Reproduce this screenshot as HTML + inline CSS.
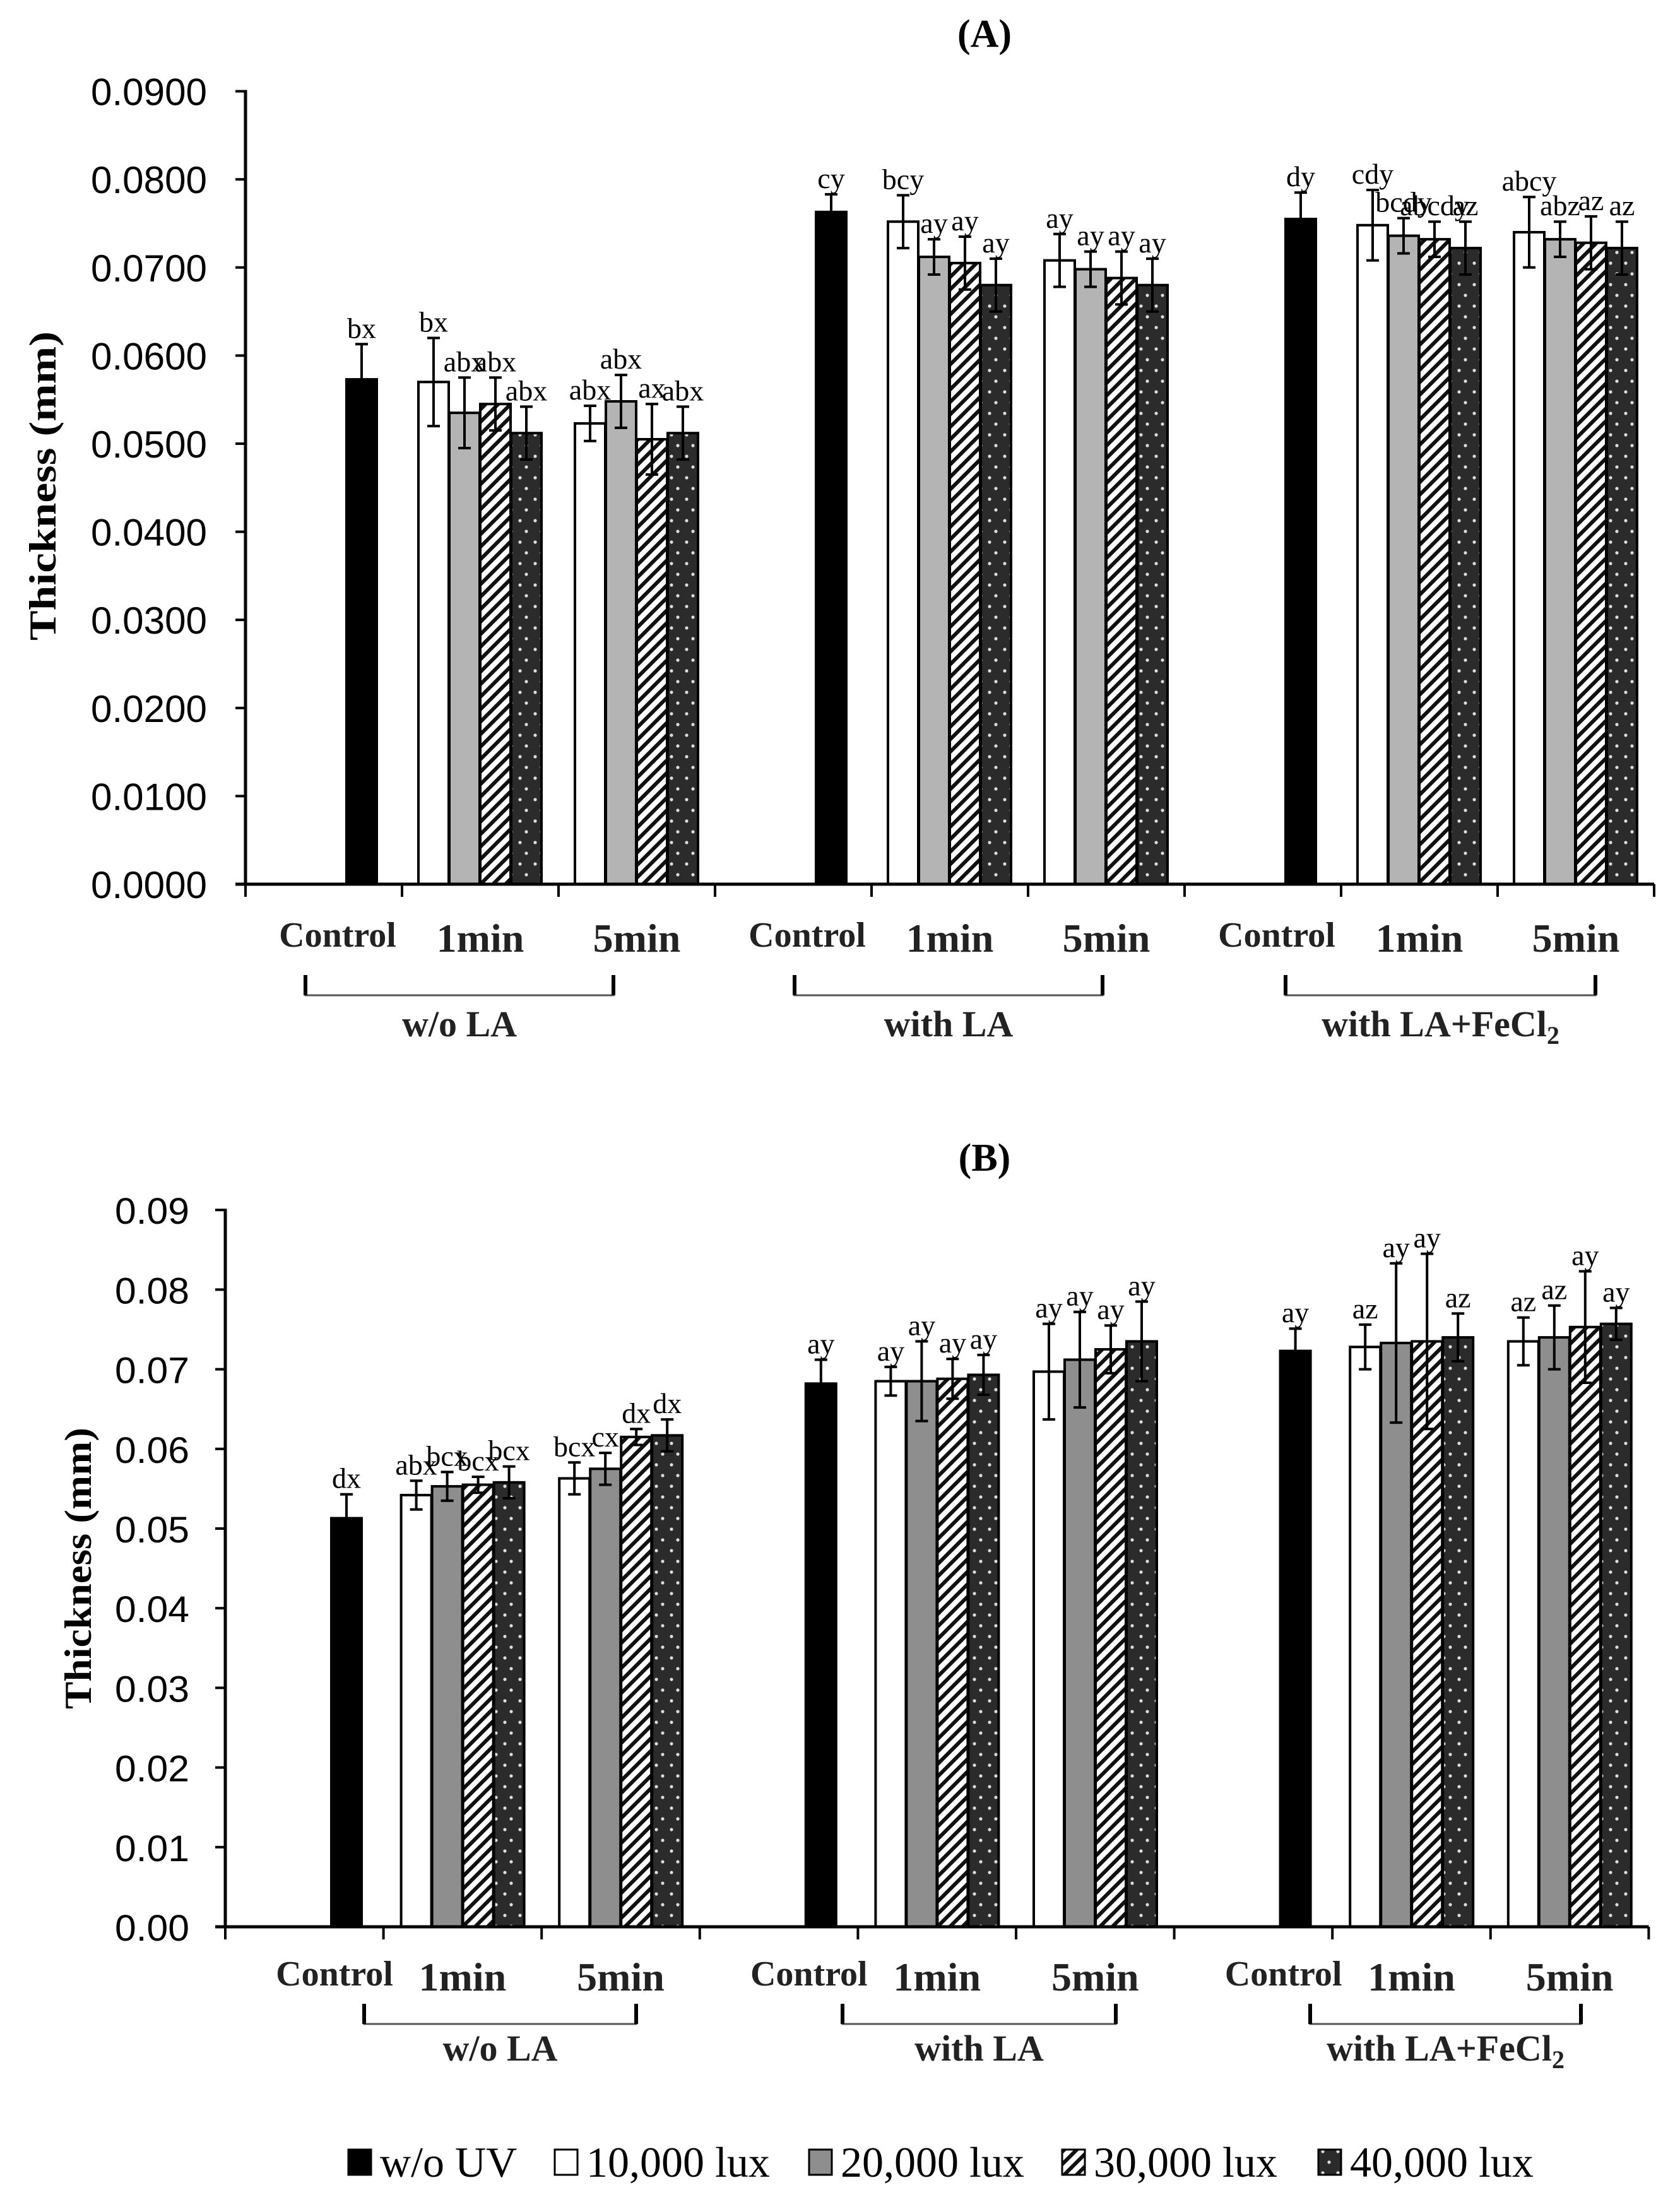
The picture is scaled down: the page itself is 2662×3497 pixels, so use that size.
<!DOCTYPE html>
<html><head><meta charset="utf-8"><style>
html,body{margin:0;padding:0;background:#fff;}
svg{display:block;}
</style></head><body>
<svg id="chart" width="2662" height="3497" viewBox="0 0 2662 3497" xmlns="http://www.w3.org/2000/svg">
<defs>
<pattern id="hatch" patternUnits="userSpaceOnUse" width="14" height="14" patternTransform="rotate(45)">
<rect width="14" height="14" fill="#fff"/><rect x="0" y="0" width="6" height="14" fill="#111"/>
</pattern>
<pattern id="dots" patternUnits="userSpaceOnUse" width="24" height="34">
<rect width="24" height="34" fill="#2b2b2b"/><circle cx="8" cy="9" r="2.6" fill="#ddd"/><circle cx="18" cy="26" r="2.6" fill="#ddd"/>
</pattern>
</defs>
<g id="root"></g>
</svg>
<script>
const groups = ["w/o LA", "with LA", "with LA+FeCl2"];
const times = ["1min", "5min"];
const seriesNames = ["w/o UV", "10,000 lux", "20,000 lux", "30,000 lux", "40,000 lux"];
const yTicksA = ["0.0000","0.0100","0.0200","0.0300","0.0400","0.0500","0.0600","0.0700","0.0800","0.0900"];
const yTicksB = ["0.00","0.01","0.02","0.03","0.04","0.05","0.06","0.07","0.08","0.09"];
// ---- Panel A data ----
const A_ctrl = [0.0573, 0.0763, 0.0755];
const A_ctrlErr = [0.0040, 0.0020, 0.0030];
const A_ctrlLbl = ["bx", "cy", "dy"];
// order: [g0-1min, g0-5min, g1-1min, g1-5min, g2-1min, g2-5min]
const A_10k = [0.0570, 0.0523, 0.0752, 0.0708, 0.0748, 0.0740];
const A_20k = [0.0535, 0.0548, 0.0712, 0.0698, 0.0736, 0.0732];
const A_30k = [0.0545, 0.0505, 0.0705, 0.0688, 0.0732, 0.0728];
const A_40k = [0.0512, 0.0512, 0.0680, 0.0680, 0.0722, 0.0722];
const A_10kErr = [0.0050, 0.0020, 0.0030, 0.0030, 0.0040, 0.0040];
const A_20kErr = [0.0040, 0.0030, 0.0020, 0.0020, 0.0020, 0.0020];
const A_30kErr = [0.0030, 0.0040, 0.0030, 0.0030, 0.0020, 0.0030];
const A_40kErr = [0.0030, 0.0030, 0.0030, 0.0030, 0.0030, 0.0030];
const A_10kLbl = ["bx", "abx", "bcy", "ay", "cdy", "abcy"];
const A_20kLbl = ["abx", "abx", "ay", "ay", "bcdy", "abz"];
const A_30kLbl = ["abx", "ax", "ay", "ay", "abcdy", "az"];
const A_40kLbl = ["abx", "abx", "ay", "ay", "az", "az"];
// ---- Panel B data ----
const B_ctrl = [0.0513, 0.0682, 0.0723];
const B_ctrlErr = [0.0030, 0.0030, 0.0028];
const B_ctrlLbl = ["dx", "ay", "ay"];
const B_10k = [0.0542, 0.0563, 0.0685, 0.0697, 0.0728, 0.0735];
const B_20k = [0.0553, 0.0575, 0.0685, 0.0712, 0.0733, 0.0740];
const B_30k = [0.0555, 0.0615, 0.0688, 0.0725, 0.0735, 0.0753];
const B_40k = [0.0558, 0.0617, 0.0693, 0.0735, 0.0740, 0.0757];
const B_10kErr = [0.0018, 0.0020, 0.0018, 0.0060, 0.0028, 0.0030];
const B_20kErr = [0.0018, 0.0020, 0.0050, 0.0060, 0.0100, 0.0040];
const B_30kErr = [0.0010, 0.0010, 0.0025, 0.0030, 0.0110, 0.0070];
const B_40kErr = [0.0020, 0.0020, 0.0025, 0.0050, 0.0030, 0.0020];
const B_10kLbl = ["abx", "bcx", "ay", "ay", "az", "az"];
const B_20kLbl = ["bcx", "cx", "ay", "ay", "ay", "az"];
const B_30kLbl = ["bcx", "dx", "ay", "ay", "ay", "ay"];
const B_40kLbl = ["bcx", "dx", "ay", "ay", "az", "ay"];

const NS = "http://www.w3.org/2000/svg";
const root = document.getElementById("root");
function mk(tag, attrs, parent, text) {
  const e = document.createElementNS(NS, tag);
  for (const k in attrs) e.setAttribute(k, attrs[k]);
  if (text !== undefined) e.textContent = text;
  (parent || root).appendChild(e);
  return e;
}
const fills = ["#000", "#fff", null, "url(#hatch)", "url(#dots)"];

function panel(cfg) {
  const g = mk("g", {});
  
  
  const y = v => cfg.y0 - v / 0.01 * cfg.unit;
  const slotX = i => cfg.x0 + i * cfg.slotW;
  const t = mk("text", {x: 1560, y: cfg.titleY, "text-anchor": "middle", "font-family": "Liberation Serif, serif", "font-weight": "bold", "font-size": 62}, g, cfg.title);
  
  
  cfg.yTicks.forEach((lab, i) => {
    const v = i * 0.01, yy = y(v);
    const tk = mk("line", {x1: cfg.x0 - 16, x2: cfg.x0, y1: yy, y2: yy, stroke: "#000", "stroke-width": 4}, g);
    
    
    const tl = mk("text", {x: cfg.tickRight, y: yy + 22, "text-anchor": "end", "font-family": "Liberation Sans, sans-serif", "font-size": cfg.tickFont, textLength: cfg.tickW, lengthAdjust: "spacingAndGlyphs"}, g, lab);
    
    
  });
  const yt = mk("text", {x: 0, y: 0, transform: `translate(${cfg.yTitleX},${cfg.yTitleY}) rotate(-90)`, "text-anchor": "middle", "font-family": "Liberation Serif, serif", "font-weight": "bold", "font-size": 60, textLength: cfg.yTitleLen, lengthAdjust: "spacingAndGlyphs"}, g, "Thickness (mm)");
  
  

  function bar(x, val, err, lbl, s) {
    const top = y(val);
    const r = mk("rect", {x: x, y: top, width: cfg.barW, height: cfg.y0 - top, fill: s === 2 ? cfg.gray : fills[s], stroke: "#000", "stroke-width": 4}, g);
    
    
    const cx = x + cfg.barW / 2, et = y(val + err), eb = y(val - err);
    const eb1 = mk("path", {d: `M${cx},${et}V${s === 0 ? top : eb}M${cx - 10},${et}H${cx + 10}` + (s === 0 ? "" : `M${cx - 10},${eb}H${cx + 10}`), stroke: "#000", "stroke-width": 4, fill: "none"}, g);
    
    
    const lt = mk("text", {x: cx, y: et - 10, "text-anchor": "middle", "font-family": "Liberation Serif, serif", "font-size": 46}, g, lbl);
    
    
  }
  const uv = [cfg.s10, cfg.s20, cfg.s30, cfg.s40];
  const uvE = [cfg.e10, cfg.e20, cfg.e30, cfg.e40];
  const uvL = [cfg.l10, cfg.l20, cfg.l30, cfg.l40];
  for (let gi = 0; gi < 3; gi++) {
    bar(slotX(gi * 3) + cfg.ctrlOff, cfg.ctrl[gi], cfg.ctrlErr[gi], cfg.ctrlLbl[gi], 0);
    for (let ti = 0; ti < 2; ti++) {
      const k = gi * 2 + ti;
      for (let s = 0; s < 4; s++) {
        bar(slotX(gi * 3 + 1 + ti) + cfg.uvOff + s * cfg.step, uv[s][k], uvE[s][k], uvL[s][k], s + 1);
      }
    }
  }
  const ax = mk("line", {x1: cfg.x0, x2: cfg.x0, y1: y(0.09) - 2, y2: cfg.y0 + 2, stroke: "#000", "stroke-width": 5}, g);
  
  
  const xa = mk("line", {x1: cfg.x0 - 16, x2: slotX(9), y1: cfg.y0, y2: cfg.y0, stroke: "#000", "stroke-width": 5}, g);
  
  
  for (let i = 0; i <= 9; i++) {
    const xt = mk("line", {x1: slotX(i), x2: slotX(i), y1: cfg.y0, y2: cfg.y0 + 20, stroke: "#000", "stroke-width": 4}, g);
    
    
  }
  for (let gi = 0; gi < 3; gi++) {
    const c = mk("text", {x: slotX(gi * 3) + cfg.ctrlLabOff, y: cfg.catY, "text-anchor": "middle", "font-family": "Liberation Serif, serif", "font-weight": "bold", "font-size": 56, "fill": "#222"}, g, "Control");
    
    
    times.forEach((tm, ti) => {
      const cl = mk("text", {x: slotX(gi * 3 + 1 + ti) + cfg.slotW / 2, y: cfg.catY + 8, "text-anchor": "middle", "font-family": "Liberation Serif, serif", "font-weight": "bold", "font-size": 64, "fill": "#222"}, g, tm);
      
      
    });
    const [bl, br] = cfg.brackets[gi];
    const bk = mk("path", {d: `M${bl},${cfg.brY - 30}V${cfg.brY}H${br}V${cfg.brY - 30}`, stroke: "#555", "stroke-width": 3, fill: "none"}, g);
    
    
    mk("path", {d: `M${bl},${cfg.brY - 32}V${cfg.brY}M${br},${cfg.brY - 32}V${cfg.brY}`, stroke: "#000", "stroke-width": 6}, g);
    const gl = mk("text", {x: (bl + br) / 2, y: cfg.grpY, "text-anchor": "middle", "font-family": "Liberation Serif, serif", "font-weight": "bold", "font-size": 58, "fill": "#222"}, g);
    
    
    if (gi === 2) {
      mk("tspan", {}, gl, "with LA+FeCl");
      mk("tspan", {"font-size": 40, dy: 12}, gl, "2");
    } else gl.textContent = groups[gi];
  }
}

panel({name: "panel-a", title: "(A)", titleY: 74, x0: 389, y0: 1401, unit: 139.6, slotW: 248,
  ctrlOff: 160, uvOff: 26, step: 49, barW: 48, gray: "#b4b4b4",
  yTicks: yTicksA, tickRight: 328, tickFont: 60, tickW: 184, yTitleX: 88, yTitleY: 770, yTitleLen: 490,
  ctrl: A_ctrl, ctrlErr: A_ctrlErr, ctrlLbl: A_ctrlLbl,
  s10: A_10k, s20: A_20k, s30: A_30k, s40: A_40k,
  e10: A_10kErr, e20: A_20kErr, e30: A_30kErr, e40: A_40kErr,
  l10: A_10kLbl, l20: A_20kLbl, l30: A_30kLbl, l40: A_40kLbl,
  ctrlLabOff: 146, catY: 1500, brY: 1577, grpY: 1642,
  brackets: [[484, 972], [1259, 1747], [2037, 2528]]});

panel({name: "panel-b", title: "(B)", titleY: 1855, x0: 357, y0: 3053, unit: 126.2, slotW: 250.6,
  ctrlOff: 168, uvOff: 28, step: 49, barW: 48, gray: "#8e8e8e",
  yTicks: yTicksB, tickRight: 300, tickFont: 58, tickW: 118, yTitleX: 144, yTitleY: 2485, yTitleLen: 446,
  ctrl: B_ctrl, ctrlErr: B_ctrlErr, ctrlLbl: B_ctrlLbl,
  s10: B_10k, s20: B_20k, s30: B_30k, s40: B_40k,
  e10: B_10kErr, e20: B_20kErr, e30: B_30kErr, e40: B_40kErr,
  l10: B_10kLbl, l20: B_20kLbl, l30: B_30kLbl, l40: B_40kLbl,
  ctrlLabOff: 173, catY: 3146, brY: 3207, grpY: 3265,
  brackets: [[577, 1008], [1335, 1768], [2076, 2505]]});

const legX = [552, 879, 1282, 1683, 2089];
const leg = mk("g", {});


seriesNames.forEach((n, i) => {
  const sw = mk("rect", {x: legX[i], y: 3406, width: 36, height: 40, fill: i === 2 ? "#8e8e8e" : fills[i], stroke: "#000", "stroke-width": 3}, leg);
  
  
  const tx = mk("text", {x: legX[i] + 50, y: 3449, "font-family": "Liberation Serif, serif", "font-size": 68}, leg, n);
  
  
});
</script>
</body></html>
